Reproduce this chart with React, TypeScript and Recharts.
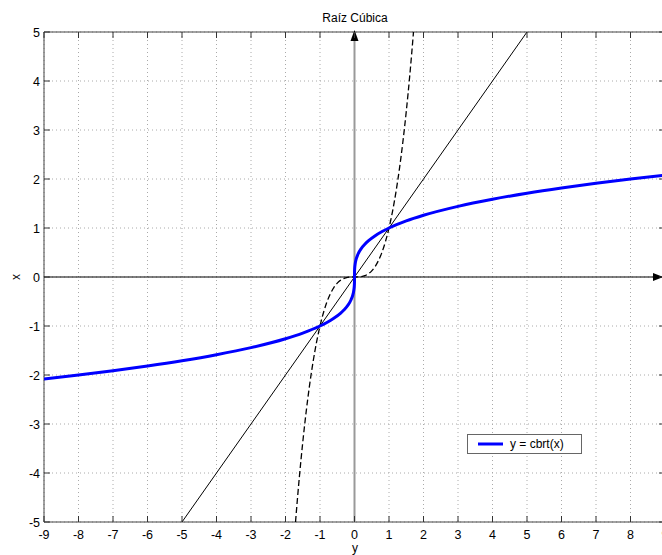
import React from "react";
import {
  ComposedChart,
  Line,
  XAxis,
  YAxis,
  CartesianGrid,
  ReferenceLine,
  ReferenceArea,
  ReferenceDot,
  Legend,
} from "recharts";

// ---- data ----
const xTicks = [-9, -8, -7, -6, -5, -4, -3, -2, -1, 0, 1, 2, 3, 4, 5, 6, 7, 8, 9];
const yTicks = [-5, -4, -3, -2, -1, 0, 1, 2, 3, 4, 5];

const cbrtX = [
  -9, -8, -7, -6, -5, -4, -3, -2, -1.5, -1, -0.8, -0.6, -0.4, -0.3, -0.2, -0.1, -0.05, -0.02, -0.005, -0.001, 0,
  0.001, 0.005, 0.02, 0.05, 0.1, 0.2, 0.3, 0.4, 0.6, 0.8, 1, 1.5, 2, 3, 4, 5, 6, 7, 8, 9,
];
const cbrtY = [
  -2.08, -2.0, -1.913, -1.817, -1.71, -1.587, -1.442, -1.26, -1.145, -1.0, -0.928, -0.843, -0.737, -0.669, -0.585,
  -0.464, -0.368, -0.271, -0.171, -0.1, 0, 0.1, 0.171, 0.271, 0.368, 0.464, 0.585, 0.669, 0.737, 0.843, 0.928, 1.0,
  1.145, 1.26, 1.442, 1.587, 1.71, 1.817, 1.913, 2.0, 2.08,
];

const identX = [-5, 5];
const identY = [-5, 5];

const cubeX = [
  -1.71, -1.6, -1.5, -1.4, -1.3, -1.2, -1.1, -1, -0.9, -0.8, -0.7, -0.6, -0.5, -0.4, -0.3, -0.2, -0.1, 0, 0.1, 0.2,
  0.3, 0.4, 0.5, 0.6, 0.7, 0.8, 0.9, 1, 1.1, 1.2, 1.3, 1.4, 1.5, 1.6, 1.71,
];
const cubeY = [
  -5.0, -4.096, -3.375, -2.744, -2.197, -1.728, -1.331, -1.0, -0.729, -0.512, -0.343, -0.216, -0.125, -0.064, -0.027,
  -0.008, -0.001, 0, 0.001, 0.008, 0.027, 0.064, 0.125, 0.216, 0.343, 0.512, 0.729, 1.0, 1.331, 1.728, 2.197, 2.744,
  3.375, 4.096, 5.0,
];

const cbrtData = cbrtX.map((x, i) => ({ x, y: cbrtY[i] }));
const identData = identX.map((x, i) => ({ x, y: identY[i] }));
const cubeData = cubeX.map((x, i) => ({ x, y: cubeY[i] }));

// ---- layout ----
const W = 680;
const H = 555;
const XAH = 20;
const YAW = 20;
const M = { top: 32, left: 44 - YAW, right: 15, bottom: 33 - XAH };
const PW = W - 44 - 15;
const PH = H - 32 - 33;
const FONT = "'Liberation Sans', Arial, Helvetica, sans-serif";
const TICK_COLOR = "#333";

const renderXTick = (props: any) => {
  const { x, y, payload } = props;
  return (
    <g key={`xt-${payload.value}`}>
      <line x1={x} x2={x} y1={y} y2={y - 6} stroke={TICK_COLOR} />
      <line x1={x} x2={x} y1={y - PH} y2={y - PH + 6} stroke={TICK_COLOR} />
      <text x={x} y={y + 17} textAnchor="middle" fontSize={12.5} fill="#000" fontFamily={FONT}>
        {payload.value}
      </text>
    </g>
  );
};

const renderYTick = (props: any) => {
  const { x, y, payload } = props;
  return (
    <g key={`yt-${payload.value}`}>
      <line x1={x} x2={x + 6} y1={y} y2={y} stroke={TICK_COLOR} />
      <line x1={x + PW} x2={x + PW - 6} y1={y} y2={y} stroke={TICK_COLOR} />
      <text x={x - 4} y={y + 4.5} textAnchor="end" fontSize={12.5} fill="#000" fontFamily={FONT}>
        {payload.value}
      </text>
    </g>
  );
};

const UpArrow = (props: any) => {
  const { cx, cy } = props;
  return <path d={`M${cx},${cy - 2} L${cx - 4},${cy + 9} L${cx + 4},${cy + 9} Z`} fill="#000" />;
};

const RightArrow = (props: any) => {
  const { cx, cy } = props;
  return <path d={`M${cx - 2},${cy} L${cx - 12},${cy - 4} L${cx - 12},${cy + 4} Z`} fill="#000" />;
};

const LegendBox = () => (
  <div
    style={{
      width: 115,
      height: 20,
      border: "1px solid #666",
      background: "#fff",
      position: "relative",
      fontFamily: FONT,
      fontSize: 12,
      boxSizing: "border-box",
    }}
  >
    <svg width={30} height={18} style={{ position: "absolute", left: 8, top: 0 }}>
      <line x1={2} x2={27} y1={9} y2={9} stroke="#0000ff" strokeWidth={3} />
    </svg>
    <span style={{ position: "absolute", left: 42, top: 2, color: "#000", whiteSpace: "nowrap" }}>y = cbrt(x)</span>
  </div>
);

export default function App() {
  return (
    <div
      style={{
        position: "absolute",
        left: 0,
        top: 0,
        width: 662,
        height: 555,
        overflow: "hidden",
        background: "#fff",
      }}
    >
      <ComposedChart width={W} height={H} margin={M}>
        <CartesianGrid stroke="#aaa" strokeDasharray="1 3" />
        <XAxis
          type="number"
          dataKey="x"
          domain={[-9, 9]}
          ticks={xTicks}
          interval={0}
          height={XAH}
          tickSize={0}
          tickMargin={0}
          tickLine={false}
          axisLine={false}
          tick={renderXTick}
          allowDataOverflow
        />
        <YAxis
          type="number"
          dataKey="y"
          domain={[-5, 5]}
          ticks={yTicks}
          interval={0}
          width={YAW}
          tickSize={0}
          tickMargin={0}
          tickLine={false}
          axisLine={false}
          tick={renderYTick}
          allowDataOverflow
        />
        <ReferenceArea x1={-9} x2={9} y1={-5} y2={5} fill="none" stroke="#444" strokeWidth={1} ifOverflow="visible" />
        <ReferenceLine x={0} stroke="#999" strokeWidth={2} />
        <ReferenceLine y={0} stroke="#000" strokeWidth={1} />
        <ReferenceDot x={0} y={5} shape={<UpArrow />} ifOverflow="visible" />
        <ReferenceDot x={9} y={0} shape={<RightArrow />} ifOverflow="visible" />
        <Line
          data={identData}
          dataKey="y"
          type="linear"
          stroke="#000"
          strokeWidth={1}
          dot={false}
          isAnimationActive={false}
          legendType="none"
        />
        <Line
          data={cubeData}
          dataKey="y"
          type="monotone"
          stroke="#000"
          strokeWidth={1.3}
          strokeDasharray="6 3"
          dot={false}
          isAnimationActive={false}
          legendType="none"
        />
        <Line
          data={cbrtData}
          dataKey="y"
          name="y = cbrt(x)"
          type="monotone"
          stroke="#0000ff"
          strokeWidth={3}
          dot={false}
          isAnimationActive={false}
        />
        <Legend
          layout="vertical"
          align="center"
          verticalAlign="middle"
          content={<LegendBox />}
          wrapperStyle={{ position: "absolute", left: 467, top: 434, width: 115, height: 20 }}
        />
        <text x={355} y={22} textAnchor="middle" fontSize={12} fontFamily={FONT} fill="#000">
          Raíz Cúbica
        </text>
        <text x={355} y={552} textAnchor="middle" fontSize={12} fontFamily={FONT} fill="#000">
          y
        </text>
        <text
          x={20}
          y={277}
          textAnchor="middle"
          fontSize={12}
          fontFamily={FONT}
          fill="#000"
          transform="rotate(-90 20 277)"
        >
          x
        </text>
      </ComposedChart>
    </div>
  );
}
